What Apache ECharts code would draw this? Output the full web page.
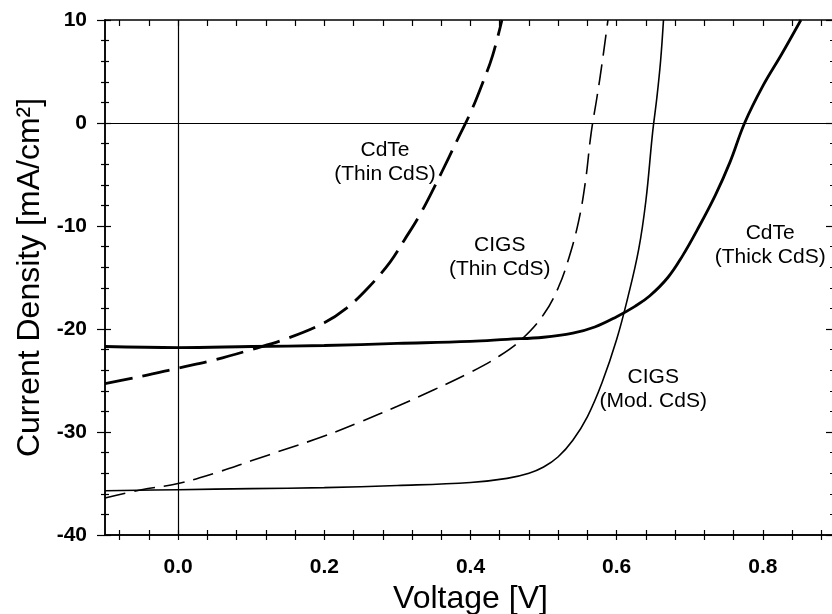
<!DOCTYPE html>
<html>
<head>
<meta charset="utf-8">
<script src="https://cdn.jsdelivr.net/npm/echarts@6/dist/echarts.min.js"></script>
<style>
  html, body { margin: 0; padding: 0; background: #fff; overflow: hidden; }
  #chart { width: 832px; height: 614px; }
</style>
</head>
<body>
<div id="chart"></div>
<script>
// J–V curves: voltage [V] vs current density [mA/cm²]
var cdteThin = [
  [-0.10, -25.3], [-0.05, -24.6], [0.00, -23.8], [0.05, -23.0], [0.10, -22.0],
  [0.15, -20.9], [0.20, -19.4], [0.23, -18.0], [0.26, -16.0], [0.29, -13.5],
  [0.31, -11.3], [0.33, -9.0], [0.35, -6.3], [0.37, -3.4], [0.385, -1.2],
  [0.40, 1.0], [0.415, 3.6], [0.43, 6.5], [0.443, 10.0]
];
var cigsThin = [
  [-0.10, -36.4], [-0.05, -35.6], [0.00, -35.0], [0.05, -34.0], [0.10, -32.8],
  [0.15, -31.6], [0.20, -30.4], [0.25, -29.0], [0.30, -27.5], [0.35, -25.9],
  [0.40, -24.2], [0.44, -22.6], [0.47, -21.0], [0.50, -18.6], [0.52, -16.0],
  [0.535, -13.0], [0.548, -9.5], [0.557, -5.8], [0.565, -1.0], [0.573, 2.5],
  [0.580, 5.8], [0.588, 10.0]
];
var cigsMod = [
  [-0.10, -35.7], [0.00, -35.6], [0.10, -35.5], [0.20, -35.4], [0.30, -35.2],
  [0.40, -34.9], [0.45, -34.5], [0.48, -34.0], [0.50, -33.4], [0.52, -32.4],
  [0.54, -30.8], [0.56, -28.5], [0.58, -25.2], [0.60, -21.0], [0.615, -17.0],
  [0.63, -12.3], [0.64, -7.5], [0.649, -1.0], [0.655, 2.5], [0.66, 6.0], [0.664, 10.0]
];
var cdteThick = [
  [-0.10, -21.7], [0.00, -21.8], [0.10, -21.7], [0.20, -21.6], [0.30, -21.4],
  [0.40, -21.2], [0.45, -21.0], [0.50, -20.8], [0.54, -20.4], [0.57, -19.8],
  [0.60, -18.8], [0.625, -17.8], [0.645, -16.8], [0.67, -15.0], [0.69, -12.9],
  [0.71, -10.4], [0.735, -7.0], [0.755, -3.8], [0.775, 0.0], [0.80, 3.6],
  [0.825, 6.6], [0.852, 10.0]
];

var xLabelValues = [0.0, 0.2, 0.4, 0.6, 0.8];
var xTickValues = [-0.08, -0.04, 0.0, 0.04, 0.08, 0.12, 0.16, 0.2, 0.24, 0.28, 0.32, 0.36,
  0.4, 0.44, 0.48, 0.52, 0.56, 0.6, 0.64, 0.68, 0.72, 0.76, 0.8, 0.84, 0.88];

// curve captions, anchored at [voltage, current density]
var captionText = ['CdTe\n(Thin CdS)', 'CIGS\n(Thin CdS)', 'CdTe\n(Thick CdS)', 'CIGS\n(Mod. CdS)'];
var captionAt = [[0.283, -3.8], [0.44, -13.0], [0.81, -11.9], [0.65, -25.8]];

var FONT = '"Liberation Sans", Arial, sans-serif';
var chart = echarts.init(document.getElementById('chart'), null, { renderer: 'canvas' });

function xAxisBase(extra) {
  return Object.assign({
    type: 'value', min: -0.1, max: 0.9, gridIndex: 0,
    axisLine: { show: true, onZero: false, lineStyle: { color: '#000', width: 1.5 } },
    splitLine: { show: false },
    axisLabel: { show: false },
    axisTick: { show: false }
  }, extra);
}
function yAxisBase(extra) {
  return Object.assign({
    type: 'value', min: -40, max: 10, interval: 10, gridIndex: 0,
    axisLine: { show: true, onZero: false, lineStyle: { color: '#000', width: 1.5 } },
    splitLine: { show: false },
    axisLabel: { show: false },
    axisTick: { show: false }
  }, extra);
}
var tickStyle = { color: '#000', width: 1.2 };

var option = {
  animation: false,
  backgroundColor: '#fff',
  grid: { left: 105, right: -4, top: 20, bottom: 79, containLabel: false, outerBoundsMode: 'none' },
  xAxis: [
    xAxisBase({
      position: 'bottom',
      name: 'Voltage [V]', nameLocation: 'middle', nameGap: 40,
      nameTextStyle: { fontFamily: FONT, fontSize: 32, color: '#000' },
      axisLabel: { show: true, customValues: xLabelValues, margin: 22,
        formatter: function (v) { return v.toFixed(1); },
        fontFamily: FONT, fontSize: 21, fontWeight: 'bold', color: '#000' },
      axisTick: { show: true, inside: true, length: 5, customValues: xTickValues, lineStyle: tickStyle }
    }),
    xAxisBase({
      position: 'bottom',
      axisTick: { show: true, inside: false, length: 5, customValues: xTickValues, lineStyle: tickStyle }
    }),
    xAxisBase({
      position: 'top',
      axisTick: { show: true, inside: true, length: 6, customValues: xTickValues, lineStyle: tickStyle }
    })
  ],
  yAxis: [
    yAxisBase({
      position: 'left',
      name: 'Current Density [mA/cm²]', nameLocation: 'middle', nameGap: 55,
      nameTextStyle: { fontFamily: FONT, fontSize: 32, color: '#000' },
      axisLabel: { show: true, margin: 18, fontFamily: FONT, fontSize: 21,
        fontWeight: 'bold', color: '#000' },
      axisTick: { show: true, inside: false, length: 8, lineStyle: tickStyle },
      minorTick: { show: true, splitNumber: 5, length: 4, lineStyle: tickStyle }
    }),
    yAxisBase({
      position: 'left',
      axisTick: { show: true, inside: true, length: 6, lineStyle: tickStyle },
      minorTick: { show: true, splitNumber: 5, length: 4, lineStyle: tickStyle }
    }),
    yAxisBase({
      position: 'right',
      axisTick: { show: true, inside: true, length: 10, lineStyle: tickStyle },
      minorTick: { show: true, splitNumber: 5, length: 6, lineStyle: tickStyle }
    })
  ],
  series: [
    {
      name: 'origin', type: 'line', data: [],
      markLine: {
        silent: true, symbol: 'none', label: { show: false },
        lineStyle: { color: '#000', width: 1.2, type: 'solid' },
        data: [{ yAxis: 0 }, { xAxis: 0 }]
      }
    },
    {
      name: 'CdTe (Thin CdS)', type: 'line', data: cdteThin, smooth: 0.4, showSymbol: false,
      lineStyle: { color: '#000', width: 2.8, type: [28, 10] }
    },
    {
      name: 'CIGS (Thin CdS)', type: 'line', data: cigsThin, smooth: 0.4, showSymbol: false,
      lineStyle: { color: '#000', width: 1.6, type: [21, 9] }
    },
    {
      name: 'CIGS (Mod. CdS)', type: 'line', data: cigsMod, smooth: 0.4, showSymbol: false,
      lineStyle: { color: '#000', width: 1.6 }
    },
    {
      name: 'CdTe (Thick CdS)', type: 'line', data: cdteThick, smooth: 0.4, showSymbol: false,
      lineStyle: { color: '#000', width: 2.8 }
    }
  ]
};
chart.setOption(option);

// place the captions through the axes
chart.setOption({
  graphic: captionText.map(function (t, i) {
    var p = chart.convertToPixel({ gridIndex: 0 }, captionAt[i]);
    return {
      type: 'text', x: p[0], y: p[1], z: 10,
      style: { text: t, fill: '#000', font: '21px ' + FONT, align: 'center',
        verticalAlign: 'middle', lineHeight: 24 }
    };
  })
});
</script>
</body>
</html>
